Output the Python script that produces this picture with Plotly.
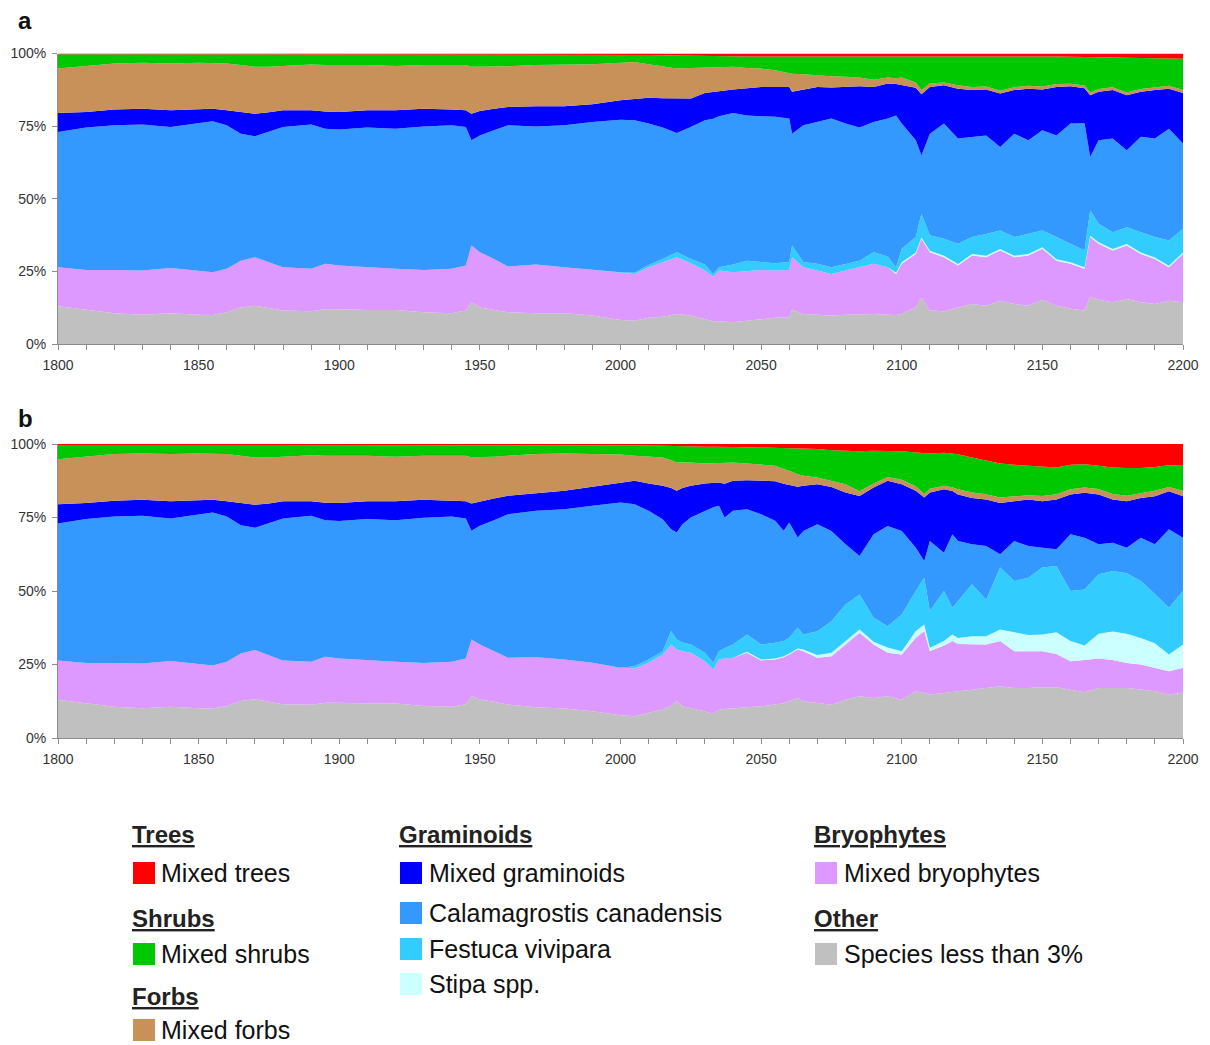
import plotly.graph_objects as go

# ---------------- data (percent cover) ----------------
years_a = [1800,1810,1820,1830,1840,1850,1855,1860,1865,1870,1875,1880,1890,1895,1900,1910,1920,1930,1940,1945,
           1947,1950,1955,1960,1970,1980,1990,
           2000,2005,2010,2015,2020,2025,2030,2033,2035,2040,2045,2050,2055,2060,2061,2065,
           2070,2075,2080,2085,2090,2095,2098,2100,2105,2107,2110,2115,2120,2125,2130,2135,2140,2145,2150,2155,2160,2165,2167,2170,2175,2180,2185,2190,2195,2200]

other_a = [13.0,11.7,10.6,10.1,10.6,10.1,10.0,10.9,12.6,13.2,12.4,11.5,11.3,12.0,12.0,11.7,11.7,10.9,10.6,11.5,
           14.4,12.6,11.7,10.9,10.6,10.6,9.8,
           8.3,8.0,9.0,9.4,10.3,9.8,8.6,7.8,7.8,7.5,8.0,8.6,9.0,9.2,11.7,10.3,
           10.1,9.8,10.1,10.3,10.3,10.1,10.0,10.3,12.6,15.9,11.5,11.3,12.6,13.8,13.2,14.9,13.8,13.2,15.2,13.2,12.1,11.5,16.3,15.2,14.4,15.5,14.4,13.8,14.9,14.4]
bryo_a = [13.4,13.8,14.9,15.2,15.6,15.0,14.7,15.0,16.1,16.7,15.8,14.9,14.6,15.6,15.0,14.7,14.2,14.6,15.3,15.5,
          19.5,19.0,17.6,15.8,16.8,15.8,15.7,
          16.1,16.1,17.4,18.8,19.6,18.0,16.7,15.4,17.5,17.2,17.1,16.9,16.3,16.3,18.2,16.1,
          15.2,14.3,15.2,16.1,17.3,16.3,14.1,17.3,18.4,20.3,20.1,18.6,14.4,16.7,16.7,17.3,16.1,17.3,17.6,15.5,15.5,14.4,20.5,19.3,17.8,18.4,16.6,15.5,11.5,16.6]
stipa_a = [0]*27 + [0]*16 + [0,0,0,0,0,0,0.4] + [0.5]*23
fest_a = [0]*27 + [0.3,0.4,0.8,1.1,1.7,1.5,2.1,0.9,1.1,2.7,3.6,2.7,2.5,2.7,4.0,1.8] + \
         [2.3,2.3,2.3,2.3,4.0,3.7,1.9,4.7,5.3,8.1,5.3,5.8,7.0,5.8,7.5,6.4,6.4,6.9,5.8,7.6,6.4,5.8,8.7,6.4,5.8,5.8,7.0,7.0,8.7,8.2]
calam_a = [46.6,49.0,49.8,50.3,48.5,50.8,52.0,49.4,43.7,41.6,44.8,48.3,49.7,46.5,46.8,48.1,48.2,49.4,49.4,47.7,
           36.2,40.2,44.3,48.6,47.5,48.9,50.9,
           52.5,52.5,48.7,45.2,41.0,45.4,49.6,53.4,52.0,52.1,50.0,50.2,50.4,49.4,38.5,47.1,
           48.8,51.2,48.3,45.8,44.8,47.5,52.3,43.1,33.3,20.1,35.0,39.7,36.2,34.5,33.9,28.7,35.6,32.2,34.5,35.0,41.4,43.8,18.4,28.7,32.2,26.5,32.8,33.9,38.5,29.3]
gram_a = [6.5,5.4,5.4,5.4,5.8,4.8,4.3,5.2,7.5,7.8,6.8,5.8,4.9,5.9,6.1,6.0,6.4,6.1,5.4,5.8,
          9.2,8.4,7.4,6.3,6.9,6.5,6.1,
          6.7,7.3,8.9,10.1,11.9,9.8,9.4,9.3,8.6,8.1,9.3,10.1,10.3,10.9,14.4,12.3,
          12.1,10.7,12.6,14.2,12.1,12.1,10.8,13.2,18.1,21.1,16.1,13.2,17.2,16.1,15.8,18.4,15.0,17.8,14.0,16.7,12.8,12.0,21.2,16.7,16.7,18.9,15.5,16.7,13.8,17.4]
forbs_a = [15.3,15.7,15.9,15.8,16.1,16.1,15.8,16.1,16.1,16.1,15.6,15.1,15.7,16.0,16.1,15.5,15.2,15.0,15.3,15.5,
           16.1,15.2,14.5,14.0,14.2,14.4,13.8,
           12.9,12.8,11.5,10.9,10.3,10.5,8.8,8.5,8.3,7.8,7.0,6.3,5.7,4.8,6.2,5.3,
           4.0,3.9,3.5,3.0,2.5,2.0,2.0,2.6,1.8,1.4,1.2,0.9,1.2,1.1,1.0,1.0,1.0,1.0,1.0,1.0,0.9,1.0,1.0,1.0,1.0,1.0,1.0,1.0,1.0,1.0]
shrubs_a = [4.9,4.1,3.1,2.9,3.1,2.9,2.9,3.1,3.7,4.3,4.3,4.1,3.5,3.7,3.7,3.7,4.0,3.7,3.7,3.7,
            4.3,4.3,4.2,4.1,3.7,3.5,3.4,
            2.9,2.5,3.2,3.9,4.5,4.2,3.9,3.8,3.8,3.6,4.0,4.2,4.8,5.7,6.0,6.1,
            6.7,7.0,7.2,7.5,8.2,7.5,7.7,7.5,9.2,11.8,9.5,9.2,10.1,10.7,10.6,12.0,10.7,10.2,10.5,9.5,9.3,9.8,12.1,10.8,10.1,11.8,10.6,9.9,9.4,10.8]
trees_a = [0.3]*27 + [0.3,0.4,0.5,0.6,0.7,0.8,0.9,0.9,0.9,1.0,1.0,1.0,1.0,1.0,1.0,1.0] + \
          [0.8]*16 + [0.9,0.9,0.9,1.0,1.1,1.2,1.3,1.4,1.5,1.6,1.6,1.7,1.7,1.8]

years_b = [1800,1810,1820,1830,1840,1850,1855,1860,1865,1870,1875,1880,1890,1895,1900,1910,1920,1930,1940,1945,
           1947,1950,1955,1960,1970,1980,1990,
           2000,2005,2010,2015,2018,2020,2022,2025,2030,2033,2035,2037,2040,2045,2050,2055,2058,2060,2063,2065,
           2070,2075,2080,2085,2090,2095,2100,2105,2108,2110,2115,2118,2120,2125,2130,2135,2140,2145,2150,2155,2160,2165,2170,2175,2180,2185,2190,2195,2200]

other_b = [13.0,11.7,10.6,10.1,10.6,10.1,10.0,10.9,12.6,13.2,12.4,11.5,11.3,12.0,12.0,11.7,11.7,10.9,10.6,11.5,
           14.2,13.1,12.3,11.4,10.5,10.0,9.1,
           7.7,7.4,8.5,9.7,11.0,12.5,10.8,10.2,9.1,8.2,9.7,9.9,10.2,10.5,10.8,11.4,11.8,12.5,13.6,12.5,
           11.9,11.3,13.0,14.2,13.6,14.2,13.0,15.9,15.3,14.8,15.3,15.6,15.9,16.5,17.0,17.6,17.0,17.0,17.3,17.3,16.5,15.6,17.0,17.0,17.0,16.5,15.9,14.8,15.4]
bryo_b = [13.4,13.8,14.9,15.2,15.6,15.0,14.7,15.0,16.1,16.7,15.8,14.9,14.6,15.6,15.0,14.7,14.2,14.6,15.3,15.5,
          19.3,18.7,17.2,15.9,17.0,16.7,16.5,
          16.2,16.2,17.1,18.7,20.8,17.6,18.7,18.8,17.0,15.1,17.0,17.1,17.1,18.5,15.6,15.3,15.7,15.9,16.5,17.0,
          15.4,16.5,18.8,21.6,18.2,14.8,15.4,18.2,21.1,14.7,16.2,17.4,16.1,15.3,14.8,15.4,12.5,12.5,12.2,11.3,9.6,10.9,10.0,9.5,8.5,8.5,8.0,7.9,8.5]
stipa_b = [0]*27 + [0]*13 + [0.3,0.3,0.3,0.3,0.3,0.3,0.6] + \
          [0.9,1.2,1.1,1.1,0.9,1.8,1.1,2.3,2.2,1.2,1.5,2.2,2.0,2.8,2.8,3.9,6.5,5.5,5.7,7.4,6.9,5.0,8.5,9.7,10.0,9.0,8.3,5.7,7.9]
fest_b = [0]*27 + [0,0.8,1.1,1.1,4.6,3.4,3.0,2.8,2.9,2.3,2.8,3.5,4.5,5.9,5.1,5.4,5.2,5.4,7.1,5.1] + \
         [8.1,10.7,12.5,11.9,8.2,7.2,12.5,13.6,15.9,12.5,17.0,9.1,12.5,17.7,12.4,21.1,17.4,19.5,22.8,22.5,17.0,19.0,20.2,20.6,20.5,19.4,16.8,15.9,18.2]
calam_b = [46.6,49.0,49.8,50.3,48.5,50.8,52.0,49.4,43.7,41.6,44.8,48.3,49.7,46.5,46.8,48.1,48.2,49.4,49.4,47.7,
           37.0,40.4,44.6,48.8,49.8,51.1,53.4,
           56.2,55.1,50.6,44.9,34.6,36.4,40.2,43.2,48.3,52.9,49.5,44.5,45.5,42.6,44.3,41.5,37.5,39.2,30.7,35.2,
           36.4,30.7,20.5,13.1,28.4,34.1,28.4,14.7,5.7,23.8,13.0,25.0,20.5,13.6,18.3,4.5,13.6,10.8,6.7,5.7,19.3,17.6,10.2,9.6,8.7,14.7,16.9,26.7,18.1]
gram_b = [6.5,5.4,5.4,5.4,5.8,4.8,4.3,5.2,7.5,7.8,6.8,5.8,4.9,5.9,6.1,6.0,6.4,6.1,5.4,5.8,
          9.3,8.3,7.4,6.3,5.9,6.3,6.5,
          6.8,8.0,9.3,11.4,14.0,14.2,12.3,10.8,9.3,8.3,7.9,11.5,10.2,9.9,11.4,13.4,16.0,12.8,17.3,15.4,
          13.6,15.0,17.6,20.4,15.9,15.4,15.9,19.4,21.6,16.5,21.6,14.7,15.8,15.7,15.8,17.4,13.5,15.8,15.8,16.9,13.5,15.3,16.9,14.7,15.8,13.5,16.3,12.9,14.1]
forbs_b = [15.3,15.7,15.9,15.8,16.1,16.1,15.8,16.1,16.1,16.1,15.6,15.1,15.7,16.0,16.1,15.5,15.2,15.0,15.3,15.5,
           15.7,15.0,14.2,13.6,13.4,12.7,11.1,
           9.5,8.5,9.2,9.6,9.5,9.6,8.7,7.9,6.8,6.7,6.7,7.1,6.2,5.7,5.6,5.3,5.0,4.8,4.2,3.4,
           2.3,2.1,2.8,1.6,1.4,1.3,1.5,1.5,1.2,1.3,1.2,1.3,1.8,1.9,1.8,1.9,1.8,1.5,1.8,1.8,1.8,1.8,1.9,1.9,1.9,1.6,1.9,1.5,1.9]
shrubs_b = [4.9,4.1,3.1,2.9,3.1,2.9,2.9,3.1,3.7,4.3,4.3,4.1,3.5,3.7,3.7,3.7,4.0,3.7,3.7,3.7,
            4.2,4.2,4.0,3.7,3.1,2.9,3.1,
            3.3,3.6,3.7,4.0,4.8,5.6,5.5,5.5,5.7,5.6,5.4,5.4,5.3,5.5,5.7,6.1,7.1,7.6,8.7,9.1,
            9.7,10.4,11.4,13.6,11.1,8.9,9.7,11.5,13.9,12.0,11.2,11.5,11.9,11.9,11.4,11.6,10.6,10.0,9.9,9.1,8.3,7.9,7.9,9.0,9.4,8.6,8.1,7.4,8.5]
trees_b = [0.3]*27 + [0.3,0.4,0.5,0.6,0.7,0.7,0.8,0.8,0.9,0.9,1.0,1.0,1.0,1.1,1.2,1.3,1.4,1.5,1.6,1.7] + \
          [1.7,2.1,2.3,2.5,2.3,2.3,2.5,2.9,3.1,3.2,3.0,3.2,3.5,4.6,5.7,6.6,7.1,7.4,7.8,8.0,7.1,6.9,7.4,8.0,8.2,8.2,7.8,7.2,7.4]

series_names = ["Species less than 3%", "Mixed bryophytes", "Stipa spp.", "Festuca vivipara",
                "Calamagrostis canadensis", "Mixed graminoids", "Mixed forbs", "Mixed shrubs", "Mixed trees"]
colors = ["#C0C0C0", "#DD99FF", "#CCFFFF", "#33CCFF", "#3399FF", "#0000FF", "#C8915A", "#00C800", "#FF0000"]

x_ticks = [1800, 1850, 1900, 1950, 2000, 2050, 2100, 2150, 2200]
y_ticks = [0, 25, 50, 75, 100]
y_ticktext = ["0%", "25%", "50%", "75%", "100%"]

# ---------------- figure ----------------
W, H = 1210, 1045
FONT = "Arial, 'Liberation Sans', Helvetica, sans-serif"


def fx(px):
    """page pixel x -> paper fraction"""
    return px / W


def fy(py):
    """page pixel y -> paper fraction"""
    return 1 - py / H


fig = go.Figure()

panels = [
    ("a", "x", "y", years_a, [other_a, bryo_a, stipa_a, fest_a, calam_a, gram_a, forbs_a, shrubs_a, trees_a]),
    ("b", "x2", "y2", years_b, [other_b, bryo_b, stipa_b, fest_b, calam_b, gram_b, forbs_b, shrubs_b, trees_b]),
]
for key, xa, ya, yrs, layers in panels:
    for name, col, vals in zip(series_names, colors, layers):
        assert len(vals) == len(yrs), (key, name, len(vals), len(yrs))
        fig.add_trace(go.Scatter(
            x=yrs, y=vals, name=name, xaxis=xa, yaxis=ya,
            stackgroup=key, groupnorm="percent", mode="lines",
            line=dict(width=0, color=col), fillcolor=col, showlegend=False,
        ))

axis_common = dict(showgrid=False, zeroline=False, showline=True, linecolor="#8c8c8c", linewidth=1,
                   ticks="outside", ticklen=5, tickwidth=1, tickcolor="#8c8c8c", automargin=False,
                   ticklabelstandoff=3,
                   tickfont=dict(family=FONT, size=14, color="#333333"))

xdom = [fx(58), fx(1183)]
xa_cfg = dict(axis_common, range=[1800, 2200], tickmode="array", tickvals=x_ticks,
              minor=dict(dtick=10, tick0=1800, ticks="outside", ticklen=5, tickcolor="#8c8c8c"),
              domain=xdom)
ya_cfg = dict(axis_common, range=[0, 100], tickmode="array", tickvals=y_ticks, ticktext=y_ticktext)

fig.update_layout(
    width=W, height=H, margin=dict(l=0, r=0, t=0, b=0, pad=0, autoexpand=False),
    paper_bgcolor="white", plot_bgcolor="white",
    font=dict(family=FONT, color="#222222"),
    xaxis=dict(xa_cfg, anchor="y"),
    yaxis=dict(ya_cfg, anchor="x", domain=[fy(344), fy(53.5)]),
    xaxis2=dict(xa_cfg, anchor="y2"),
    yaxis2=dict(ya_cfg, anchor="x2", domain=[fy(738), fy(444)]),
)

annotations = []
shapes = []

# panel letters
for letter, ypx in [("a", 21), ("b", 418)]:
    annotations.append(dict(text=f"<b>{letter}</b>", x=fx(16), y=fy(ypx), xref="paper", yref="paper",
                            xanchor="left", yanchor="middle", showarrow=False,
                            font=dict(family=FONT, size=24, color="#111111")))

# legend (grouped, below the panels)
legend_groups = [
    (132, 161, [("Trees", 834, None), ("Mixed trees", 873, "#FF0000"),
                ("Shrubs", 918, None), ("Mixed shrubs", 954, "#00C800"),
                ("Forbs", 996, None), ("Mixed forbs", 1030, "#C8915A")]),
    (399, 429, [("Graminoids", 834, None), ("Mixed graminoids", 873, "#0000FF"),
                ("Calamagrostis canadensis", 913, "#3399FF"), ("Festuca vivipara", 949, "#33CCFF"),
                ("Stipa spp.", 984, "#CCFFFF")]),
    (814, 844, [("Bryophytes", 834, None), ("Mixed bryophytes", 873, "#DD99FF"),
                ("Other", 918, None), ("Species less than 3%", 954, "#C0C0C0")]),
]
for x_sq, x_txt, items in legend_groups:
    for label, ypx, col in items:
        if col is None:
            annotations.append(dict(text=f"<b><u>{label}</u></b>", x=fx(x_sq - 2), y=fy(ypx),
                                    xref="paper", yref="paper", xanchor="left", yanchor="middle",
                                    showarrow=False, font=dict(family=FONT, size=24, color="#222222")))
        else:
            shapes.append(dict(type="rect", xref="paper", yref="paper",
                               x0=fx(x_sq + 1), x1=fx(x_sq + 23), y0=fy(ypx + 11), y1=fy(ypx - 11),
                               fillcolor=col, line=dict(width=0)))
            annotations.append(dict(text=label, x=fx(x_txt - 2), y=fy(ypx),
                                    xref="paper", yref="paper", xanchor="left", yanchor="middle",
                                    showarrow=False, font=dict(family=FONT, size=25, color="#111111")))

fig.update_layout(annotations=annotations, shapes=shapes)

# the page's default 8px body margin would push the 1210x1045 figure off-canvas
fig.write_html("out.html",
               config={"displayModeBar": False},
               post_script="document.body.style.margin='0';document.body.style.overflow='hidden';")
